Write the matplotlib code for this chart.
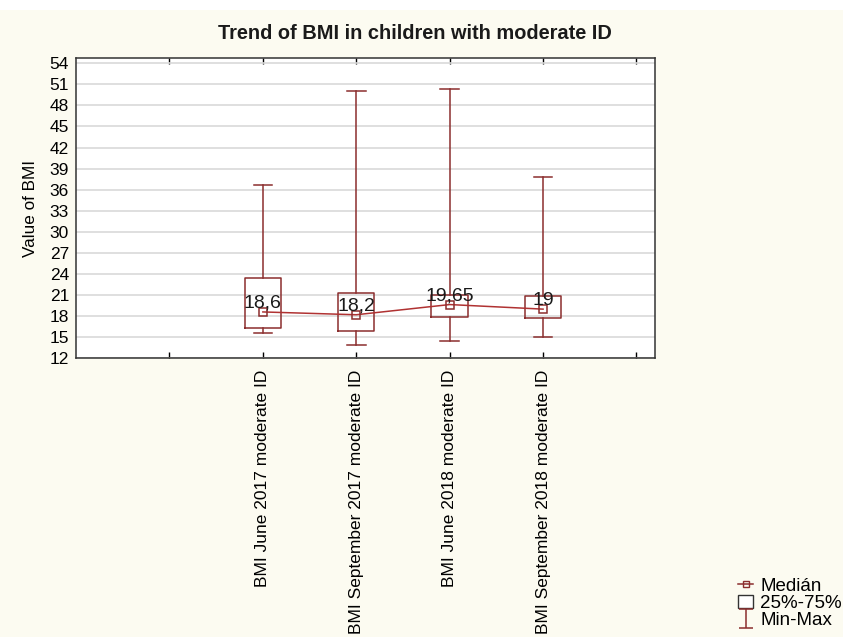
import matplotlib
matplotlib.use("Agg")
import matplotlib.pyplot as plt
from matplotlib.lines import Line2D
from matplotlib.patches import Patch, Rectangle

plt.rcParams['font.family'] = ['Liberation Sans', 'DejaVu Sans']

# BMI summary per measurement
labels = ["BMI June 2017 moderate ID", "BMI September 2017 moderate ID",
          "BMI June 2018 moderate ID", "BMI September 2018 moderate ID"]
medians = [18.6, 18.2, 19.65, 19.0]
median_text = ["18,6", "18,2", "19,65", "19"]
q1 = [16.3, 15.9, 17.9, 17.8]
q3 = [23.4, 21.3, 21.0, 20.9]
mins = [15.6, 13.9, 14.5, 15.0]
maxs = [36.6, 50.1, 50.3, 37.8]
yticks = list(range(12, 55, 3))

box_col = '#8b2e2e'
line_col = '#b03232'
bg = '#fcfbf1'

fig = plt.figure(figsize=(8.43, 6.37), dpi=100, facecolor=bg)
fig.patches.append(Rectangle((0, 0.984), 1, 0.016, transform=fig.transFigure,
                             facecolor='white', edgecolor='none', zorder=0))
ax = fig.add_axes([0.0902, 0.4375, 0.687, 0.471])
ax.set_facecolor('white')

pos = [1, 2, 3, 4]
stats = []
for i in range(4):
    stats.append({'med': medians[i], 'q1': q1[i], 'q3': q3[i],
                  'whislo': mins[i], 'whishi': maxs[i], 'fliers': []})

ax.bxp(stats, positions=pos, widths=0.39, capwidths=0.2, showfliers=False,
       boxprops=dict(color=box_col, linewidth=1.1),
       whiskerprops=dict(color=box_col, linewidth=1.1),
       capprops=dict(color=box_col, linewidth=1.1),
       medianprops=dict(linewidth=0), zorder=3)

ax.plot(pos, medians, color=line_col, lw=1.1, marker='s', ms=5.5,
        mfc='none', mec=box_col, mew=1.1, zorder=4)
for x, m, t in zip(pos, medians, median_text):
    ax.annotate(t, (x, m), xytext=(0, 0), textcoords='offset points',
                ha='center', va='bottom', fontsize=14, color='#1a1a1a', zorder=5)

# errorbar drawn off-view, only used for its legend handle
eb = ax.errorbar([-10], [30], yerr=[2], fmt='none', ecolor=box_col,
                 capsize=5, elinewidth=1.1, capthick=1.1)

ax.set_xlim(-1.0, 5.2)
ax.set_ylim(12, 54.7)
ax.set_xticks([0, 1, 2, 3, 4, 5])
ax.set_xticklabels([""] + labels + [""], rotation=90, fontsize=12.5)
ax.set_yticks(yticks)
ax.set_yticklabels([str(v) for v in yticks], fontsize=12.5)
ax.tick_params(axis='x', direction='in', length=4, top=True, width=1, pad=8)
ax.tick_params(axis='y', length=0, pad=5)
ax.yaxis.grid(True, color='#d9d9d9', lw=1.2)
ax.set_axisbelow(True)
for s in ax.spines.values():
    s.set_color('#333333')
    s.set_linewidth(1.1)

ax.set_ylabel("Value of BMI", fontsize=12.3, labelpad=8)
fig.text(0.492, 0.948, "Trend of BMI in children with moderate ID",
         ha='center', va='center', fontsize=14.4, fontweight='bold', color='#1a1a1a')

# legend in the bottom-right corner
handles = [Line2D([0], [0], color=box_col, marker='s', ms=5, mfc='none', lw=1.1),
           Patch(facecolor='white', edgecolor='#333333', linewidth=1),
           eb]
fig.legend(handles, ["Medián", "25%-75%", "Min-Max"], loc='lower right',
           bbox_to_anchor=(1.014, -0.008), frameon=False, fontsize=13.5,
           handlelength=0.8, handletextpad=0.35, labelspacing=0.0, borderaxespad=0.3)

fig.savefig("out.png", dpi=100, facecolor=bg)
